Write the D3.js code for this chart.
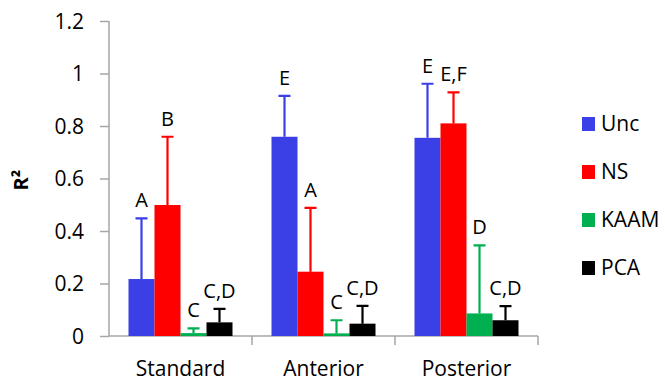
<!DOCTYPE html>
<meta charset="utf-8">
<title>R2 by method</title>
<script src="https://cdn.jsdelivr.net/npm/d3@7"></script>
<style>
  body { margin: 0; background: #fff; }
  text { font-family: "Open Sans", sans-serif; fill: #000; }
</style>
<body>
<svg></svg>
<script>
// data
var categories = ["Standard", "Anterior", "Posterior"];
var series = ["Unc", "NS", "KAAM", "PCA"];
var colors = ["#3a3fe6", "#ff0000", "#00b050", "#000000"];
var means = [
  [0.217, 0.499, 0.011, 0.052],
  [0.759, 0.245, 0.010, 0.047],
  [0.755, 0.810, 0.086, 0.060]
];
var errTops = [
  [0.448, 0.759, 0.029, 0.103],
  [0.915, 0.488, 0.060, 0.115],
  [0.961, 0.928, 0.345, 0.114]
];
var letters = [
  ["A", "B", "C", "C,D"],
  ["E", "A", "C", "C,D"],
  ["E", "E,F", "D", "C,D"]
];
var yTicks = [0, 0.2, 0.4, 0.6, 0.8, 1, 1.2];

var width = 665, height = 383;
var svg = d3.select("svg").attr("width", width).attr("height", height);

var y = d3.scaleLinear().domain([0, 1.2]).range([336, 21]);
var x0 = d3.scaleBand().domain(categories).range([109, 538]);
var x1 = d3.scaleBand().domain(series).range([19.5, x0.bandwidth() - 19.5]);

// y axis
var yAxis = svg.append("g")
    .attr("transform", "translate(109,0)")
    .call(d3.axisLeft(y).tickValues(yTicks).tickSize(9).tickPadding(16)
      .tickFormat(function(d) { return String(+d.toFixed(1)); }));
yAxis.select(".domain").attr("stroke", "#a6a6a6").attr("stroke-width", 1.5).attr("d", "M0,21V336");
yAxis.selectAll(".tick line").attr("stroke", "#a6a6a6").attr("stroke-width", 1.5);
yAxis.selectAll(".tick text").attr("font-size", 21).attr("font-family", "Open Sans").attr("fill", "#000").attr("dy", "0.35em");

// x axis
var xAxis = svg.append("g").attr("transform", "translate(0,336)");
xAxis.append("line").attr("x1", 109).attr("x2", 538).attr("stroke", "#a6a6a6").attr("stroke-width", 1.5);
xAxis.selectAll(".sep")
  .data(categories)
  .enter().append("line")
    .attr("x1", function(d) { return x0(d) + x0.bandwidth(); })
    .attr("x2", function(d) { return x0(d) + x0.bandwidth(); })
    .attr("y1", 0).attr("y2", 9)
    .attr("stroke", "#a6a6a6").attr("stroke-width", 1.5);
xAxis.selectAll(".cat")
  .data(categories)
  .enter().append("text")
    .attr("x", function(d) { return x0(d) + x0.bandwidth() / 2; })
    .attr("y", 40)
    .attr("text-anchor", "middle")
    .attr("font-size", 21)
    .text(function(d) { return d; });

// bars
var groups = svg.selectAll(".grp")
  .data(categories)
  .enter().append("g")
    .attr("transform", function(d) { return "translate(" + x0(d) + ",0)"; });

groups.each(function(cat, ci) {
  var g = d3.select(this);
  var rows = series.map(function(s, si) {
    return { s: s, v: means[ci][si], e: errTops[ci][si], l: letters[ci][si], c: colors[si] };
  });
  // error bars
  g.selectAll(".err")
    .data(rows)
    .enter().append("path")
      .attr("d", function(d) {
        var cx = x1(d.s) + x1.bandwidth() / 2;
        return "M" + cx + "," + y(d.v) + "V" + y(d.e) + "M" + (cx - 6) + "," + y(d.e) + "H" + (cx + 6);
      })
      .attr("stroke", function(d) { return d.c; })
      .attr("stroke-width", 2.2)
      .attr("fill", "none");
  g.selectAll(".bar")
    .data(rows)
    .enter().append("rect")
      .attr("x", function(d) { return x1(d.s); })
      .attr("width", x1.bandwidth())
      .attr("y", function(d) { return y(d.v); })
      .attr("height", function(d) { return y(0) - y(d.v); })
      .attr("fill", function(d) { return d.c; });
  g.selectAll(".lbl")
    .data(rows)
    .enter().append("text")
      .attr("x", function(d) { return x1(d.s) + x1.bandwidth() / 2; })
      .attr("y", function(d) { return y(d.e) - 11; })
      .attr("text-anchor", "middle")
      .attr("font-size", 20)
      .text(function(d) { return d.l; });
});

// y title
svg.append("text")
  .attr("transform", "translate(28,180) rotate(-90)")
  .attr("text-anchor", "middle")
  .attr("font-size", 20)
  .attr("font-weight", "bold")
  .text("R²");

// legend
var legend = svg.selectAll(".leg")
  .data(series)
  .enter().append("g")
    .attr("transform", function(d, i) { return "translate(582," + (124 + i * 48) + ")"; });
legend.append("rect")
  .attr("x", 0).attr("y", -7).attr("width", 13).attr("height", 14)
  .attr("fill", function(d, i) { return colors[i]; });
legend.append("text")
  .attr("x", 19).attr("dy", "0.35em")
  .attr("font-size", 21)
  .text(function(d) { return d; });
</script>
</body>
